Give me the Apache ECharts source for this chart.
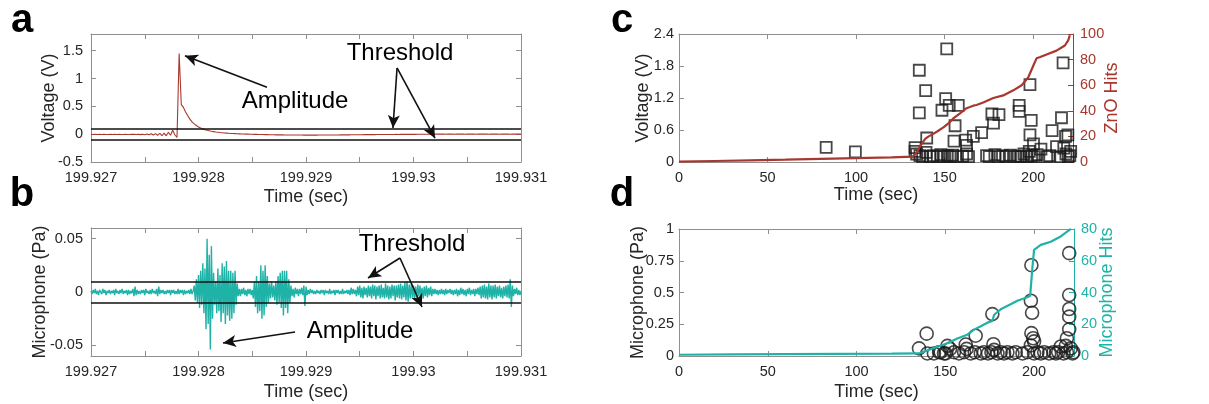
<!DOCTYPE html>
<html>
<head>
<meta charset="utf-8">
<script src="https://cdn.jsdelivr.net/npm/echarts@6/dist/echarts.min.js"></script>
<style>
  html, body { margin: 0; padding: 0; background: #fff; }
  #chart { width: 1209px; height: 404px; }
</style>
</head>
<body>
<div id="chart"></div>
<script>
// panel a: ZnO sensor voltage trace, sampled every 20 us from 199.927 s
const voltStart = 199.927;
const voltStep = 2e-5;
const voltTrace = [
  -0.004,-0.006,-0.003,-0.007,-0.004,-0.006,-0.003,-0.005,-0.006,-0.004,
  -0.007,-0.003,-0.006,-0.004,-0.005,-0.007,-0.003,-0.005,-0.006,-0.004,
  -0.002,-0.007,-0.001,-0.008,0.0,-0.01,0.004,-0.012,0.006,-0.015,
  0.01,-0.02,0.015,-0.028,0.02,-0.03,0.035,-0.02,0.07,-0.01,-0.06,1.45,
  0.53,0.48,0.4,0.33,0.27,0.22,0.185,0.155,0.13,0.11,0.095,0.08,0.07,0.06,0.052,0.046,0.04,0.035,
  0.03,0.026,0.022,0.019,0.016,0.013,0.011,0.009,0.007,0.005,0.003,0.002,0.001,0,-0.001,-0.002,
  -0.003,-0.004,-0.005,-0.006,-0.007,
  -0.008,-0.009,-0.01,-0.01,-0.011,-0.012,-0.012,-0.013,-0.013,-0.014,
  -0.014,-0.015,-0.015,-0.015,-0.016,-0.016,-0.016,-0.016,-0.017,-0.017,
  -0.017,-0.017,-0.017,-0.017,-0.017,-0.016,-0.016,-0.016,-0.016,-0.015,
  -0.015,-0.015,-0.014,-0.014,-0.014,-0.013,-0.013,-0.012,-0.012,-0.012,
  -0.011,-0.011,-0.011,-0.01,-0.01,-0.01,-0.009,-0.009,-0.009,-0.008,
  -0.008,-0.008,-0.007,-0.007,-0.007,-0.006,-0.006,-0.006,-0.005,-0.005,
  -0.005,-0.004,-0.005,-0.004,-0.004,-0.003,-0.004,-0.003,-0.003,-0.002,
  -0.003,-0.002,-0.002,-0.001,-0.002,-0.001,-0.001,0,-0.001,0,
  0,0.001,0,0.001,-0.001,0.002,0,0.001,-0.001,0.002,
  0.001,0,0.002,-0.001,0.001,0.002,0,0.001,-0.001,0.002,
  0.001,0,0.002,0.001,-0.001,0.002,0,0.001,0.002,-0.001,
  0.001,0,0.002,0.001,-0.001,0.001,0.002,0,0.001,0.001
];
const voltThreshold = [0.1, -0.1];

// panel b: microphone trace, sampled every 10 us from 199.927 s
const micStart = 199.927;
const micStep = 1e-5;
const micTrace = [
  0.001,-0.002,0.002,-0.001,0.003,-0.002,0.001,-0.003,0.002,0,-0.002,0.003,-0.001,0.002,-0.003,0.001,-0.001,0.002,-0.002,0.001,
  -0.001,0.002,-0.003,0.003,-0.001,0.001,-0.002,0.002,-0.001,0.003,-0.002,0.001,-0.001,0.002,-0.003,0.002,-0.002,0.001,-0.001,0.003,
  -0.004,0.005,-0.003,0.002,-0.002,0.001,-0.002,0.002,-0.001,0.002,-0.003,0.003,-0.001,0.001,-0.002,0.002,-0.002,0.003,-0.001,0.001,
  -0.002,0.003,-0.004,0.005,-0.002,0.002,-0.001,0.002,-0.002,0.001,-0.002,0.002,-0.001,0.002,-0.003,0.002,-0.001,0.002,-0.002,0.001,
  -0.002,0.003,-0.002,0.002,-0.001,0.002,-0.003,0.002,-0.002,0.001,-0.001,0.002,-0.002,0.003,-0.002,0.001,
  0.006,-0.008,0.012,-0.01,0.016,-0.015,0.02,-0.012,0.027,-0.02,0.022,-0.035,0.05,-0.03,0.035,-0.054,0.043,-0.025,0.018,-0.012,
  0.01,-0.02,0.022,-0.018,0.016,-0.028,0.027,-0.02,0.024,-0.03,0.029,-0.022,0.02,-0.027,0.02,-0.025,0.018,-0.02,0.02,-0.012,
  0.008,-0.004,0.003,-0.004,
  0.003,-0.002,0.004,-0.003,0.002,-0.004,0.003,-0.002,0.003,-0.003,0.002,-0.006,0.01,-0.014,0.015,-0.02,0.01,-0.018,0.025,-0.025,
  0.02,-0.022,0.025,-0.014,0.015,-0.01,0.008,-0.006,0.01,-0.005,0.006,-0.008,0.01,-0.012,0.015,-0.01,0.018,-0.015,0.02,-0.022,
  0.02,-0.015,0.02,-0.02,0.012,-0.01,0.006,-0.004,0.003,-0.005,0.004,-0.002,0.003,-0.004,0.003,-0.002,0.004,-0.003,0.006,-0.013,
  0.005,-0.003,0.002,-0.002,0.003,-0.001,0.002,-0.002,0.001,-0.002,0.002,-0.001,0.001,-0.002,0.002,-0.001,0.002,-0.003,0.002,-0.001,
  0.001,-0.002,0.003,-0.002,0.001,-0.001,0.002,-0.003,0.002,-0.001,0.002,-0.002,0.001,-0.002,0.003,-0.002,0.001,-0.001,0.002,-0.002,
  0.002,-0.003,0.004,-0.002,0.003,-0.002,0.002,-0.004,0.005,-0.003,0.006,-0.005,0.004,-0.006,0.005,-0.003,0.004,-0.005,0.006,-0.004,
  0.005,-0.006,0.007,-0.004,0.006,-0.007,0.005,-0.004,0.006,-0.006,0.007,-0.005,0.004,-0.006,0.008,-0.005,0.006,-0.007,0.005,-0.006,
  0.007,-0.004,0.006,-0.008,0.006,-0.005,0.007,-0.006,0.008,-0.007,0.006,-0.005,0.009,-0.008,0.01,-0.009,0.007,-0.006,0.008,-0.005,
  0.006,-0.007,0.005,-0.006,0.007,-0.004,0.006,-0.005,0.004,-0.006,0.005,-0.004,0.006,-0.005,0.004,-0.003,0.005,-0.004,0.003,-0.002,
  0.003,-0.002,0.002,-0.003,0.002,-0.002,0.003,-0.002,0.002,-0.003,0.003,-0.002,0.002,-0.001,0.003,-0.002,0.002,-0.003,0.002,-0.002,
  0.003,-0.004,0.002,-0.003,0.004,-0.002,0.003,-0.003,0.002,-0.004,0.003,-0.002,0.004,-0.003,0.002,-0.002,0.003,-0.004,0.003,-0.002,
  0.004,-0.003,0.005,-0.006,0.006,-0.005,0.007,-0.006,0.005,-0.007,0.008,-0.005,0.006,-0.007,0.006,-0.005,0.007,-0.006,0.005,-0.004,
  0.006,-0.005,0.004,-0.006,0.005,-0.004,0.006,-0.005,0.007,-0.006,0.012,-0.014,0.006,-0.004,0.003,-0.002,0.004,-0.003,0.002,-0.003,0.001
];
const micThreshold = [0.013, -0.013];

// panel c: ZnO hits over the run
const znoHitTime = [133.3,133.3,134.2,136.1,137.6,139.5,141.8,143.6,145.9,147.8,149.3,151.5,153,154.5,156.4,160.2,162.4,163.5,
  173.7,175.2,178.4,180.3,182.7,184.6,187.2,189.7,191.6,192.9,194.8,196.6,197.8,199.1,200.4,202.3,207.6,209.4,215.1,218.5,219.8,220.7,221.2,
  83.1,99.6,135.7,135.7,139.3,139.9,151.2,150.6,152.6,148.5,157.7,155.9,155.3,161.9,162.4,166.2,170.9,176.7,177.6,180.7,
  192.1,192.1,198.2,198.9,198.2,200.2,204.4,210.7,216.0,216.9,218.3,219.6,217.3,213.2];
const znoHitVolt = [0.2,0.27,0.15,0.12,0.1,0.18,0.1,0.12,0.1,0.14,0.1,0.12,0.1,0.13,0.1,0.11,0.15,0.1,
  0.12,0.1,0.14,0.1,0.12,0.1,0.13,0.1,0.11,0.1,0.15,0.1,0.2,0.12,0.1,0.14,0.1,0.12,0.1,0.15,0.1,0.12,0.2,
  0.275,0.19,1.72,0.92,1.34,0.45,2.12,1.19,1.06,0.97,1.06,0.68,0.39,0.41,0.31,0.48,0.55,0.9,0.73,0.89,
  1.06,0.95,1.45,0.78,0.51,0.34,0.24,0.59,0.83,1.86,0.48,0.51,0.26,0.29];
const znoCountTime = [0,20,40,60,80,100,120,132,134,136,139,141,143.6,146,149.3,152,154.9,158.7,162.4,166.2,168,171.8,
  177.5,183.1,188.8,193.5,197.2,200,201.9,204,207.6,213.2,217.9,219.8,220.7];
const znoCount = [0.3,0.8,1.3,1.8,2.4,3,3.6,4.2,7,12,18,20,22,24,27,30,34,38,42,44,44.5,46.5,
  50,52,56,60,66,75,81,82,84,87,91,95,99];

// panel d: microphone hits over the run
const micHitTime = [135.2,139.5,139.9,146.5,149.3,151.2,152.7,161.5,162,167.1,176.5,177.1,177.5,
  198.5,198.2,198.9,198.5,199.5,198.2,200,219.8,219.8,219.8,219.8,219.8,218.5,217.9,215.1,220.7,
  143.6,147.4,150.2,154.9,157.7,160.6,164.3,166.6,170,171.8,174.1,176,179.4,181.2,183.1,185,187.8,189.7,
  193.5,196.3,200,201.9,203.8,205.7,208.5,210.9,212.3,213.6,216.6,218.5,221.7,222.2];
const micHitPa = [0.06,0.176,0.02,0.03,0.02,0.08,0.056,0.09,0.056,0.16,0.33,0.093,0.048,
  0.715,0.435,0.34,0.18,0.14,0.083,0.115,0.81,0.48,0.37,0.31,0.21,0.14,0.08,0.075,0.06,
  0.02,0.03,0.02,0.03,0.02,0.03,0.02,0.03,0.02,0.03,0.02,0.03,0.02,0.03,0.02,0.03,0.02,0.03,
  0.02,0.03,0.02,0.03,0.02,0.03,0.02,0.03,0.02,0.03,0.02,0.03,0.02,0.03];
const micCountTime = [0,30,60,90,120,135,137,143.6,151.2,156.8,162.4,166.2,170,173.7,176.5,177.5,181.2,186.8,
  190.6,196.2,197.8,199.1,200,203.8,209.4,215,218.8,220.7];
const micCount = [0.8,1,1.2,1.4,1.5,1.6,2.3,5,8,11,13.4,16.6,18.8,21,22,26,29.4,32.6,34.8,37,38,56,66.8,70,72,75.3,78.5,80];

// tick values
const timeLabels = [199.927, 199.928, 199.929, 199.93, 199.931];
const timeTicks = [199.927, 199.9275, 199.928, 199.9285, 199.929, 199.9295, 199.93, 199.9305, 199.931];
const voltTicks = [-0.5, 0, 0.5, 1, 1.5];
const micTicks = [-0.05, 0, 0.05];
const runTicks = [0, 50, 100, 150, 200];
const znoVoltTicks = [0, 0.6, 1.2, 1.8, 2.4];
const znoHitTicks = [0, 20, 40, 60, 80, 100];
const micPaTicks = [0, 0.25, 0.5, 0.75, 1];
const micHitTicks = [0, 20, 40, 60, 80];

const FONT = '"Liberation Sans", Arial, sans-serif';
const TXT = '#262626';
const BOX = '#8f8f8f';
const RED = '#a8382f';
const CYAN = '#1fb3a8';

function xAx(gridIndex, position, min, max, labels, ticks, name, nameGap) {
  const bottom = position === 'bottom';
  return {
    type: 'value', gridIndex, position, min, max,
    name: bottom ? name : '', nameLocation: 'middle', nameGap: nameGap || 26, nameMoveOverlap: false,
    nameTextStyle: { fontSize: 18, color: TXT, fontFamily: FONT },
    axisLine: { show: true, onZero: false, lineStyle: { color: BOX, width: 1 } },
    axisTick: { show: true, inside: true, length: 5, customValues: ticks, lineStyle: { color: BOX } },
    axisLabel: { show: bottom, customValues: labels, fontSize: 14.5, color: TXT, fontFamily: FONT, margin: 8 },
    splitLine: { show: false }
  };
}

function yAx(gridIndex, position, min, max, ticks, name, nameGap, color, showLabel, margin) {
  const lineColor = color ? color : BOX;
  return {
    type: 'value', gridIndex, position, min, max,
    name: name || '', nameLocation: 'middle', nameGap: nameGap || 30, nameMoveOverlap: false,
    nameTextStyle: { fontSize: 18, color: color || TXT, fontFamily: FONT },
    axisLine: { show: true, onZero: false, lineStyle: { color: lineColor, width: 1 } },
    axisTick: { show: true, inside: true, length: 5, customValues: ticks, lineStyle: { color: lineColor } },
    axisLabel: { show: showLabel !== false, customValues: ticks, fontSize: 14.5, color: color || TXT, fontFamily: FONT, margin: margin || 8 },
    splitLine: { show: false }
  };
}

function arrowLines(pairs) {
  return pairs.map(([a, b]) => [
    { coord: a, symbol: 'none' },
    { coord: b, symbol: 'arrow', symbolSize: [9, 13] }
  ]);
}

function thresholdLines(levels) {
  return levels.map((v) => ({ yAxis: v, symbol: 'none', lineStyle: { color: '#111', width: 1.6, type: 'solid' } }));
}

function annotations(levels, arrows) {
  return {
    silent: true, animation: false,
    symbol: ['none', 'none'],
    label: { show: false },
    emphasis: { disabled: true },
    lineStyle: { color: '#111', width: 1.6, type: 'solid' },
    data: thresholdLines(levels).concat(arrowLines(arrows))
  };
}

const chart = echarts.init(document.getElementById('chart'), null, { renderer: 'canvas' });

const text = (x, y, s, size, bold) => ({
  type: 'text', x, y, silent: true,
  style: { text: s, fill: '#000', font: (bold ? 'bold ' : '') + size + 'px ' + FONT, align: 'center', verticalAlign: 'middle' }
});

chart.setOption({
  animation: false,
  backgroundColor: '#fff',
  grid: [
    { left: 91, top: 34, width: 430, height: 128 },
    { left: 91, top: 228, width: 430, height: 128 },
    { left: 679, top: 34, width: 394, height: 128 },
    { left: 679, top: 229, width: 395, height: 127 }
  ],
  xAxis: [
    xAx(0, 'bottom', 199.927, 199.931, timeLabels, timeTicks, 'Time (sec)', 26),
    xAx(0, 'top', 199.927, 199.931, [], timeTicks),
    xAx(1, 'bottom', 199.927, 199.931, timeLabels, timeTicks, 'Time (sec)', 27),
    xAx(1, 'top', 199.927, 199.931, [], timeTicks),
    xAx(2, 'bottom', 0, 222.5, runTicks, runTicks, 'Time (sec)', 24),
    xAx(2, 'top', 0, 222.5, [], runTicks),
    xAx(3, 'bottom', 0, 222.5, runTicks, runTicks, 'Time (sec)', 27),
    xAx(3, 'top', 0, 222.5, [], runTicks)
  ],
  yAxis: [
    yAx(0, 'left', -0.5, 1.8, voltTicks, 'Voltage (V)', 33),
    yAx(0, 'right', -0.5, 1.8, voltTicks, '', 0, null, false),
    yAx(1, 'left', -0.06, 0.06, micTicks, 'Microphone (Pa)', 42),
    yAx(1, 'right', -0.06, 0.06, micTicks, '', 0, null, false),
    yAx(2, 'left', 0, 2.4, znoVoltTicks, 'Voltage (V)', 27, null, true, 5),
    yAx(2, 'right', 0, 100, znoHitTicks, 'ZnO Hits', 30, RED, true, 7),
    yAx(3, 'left', 0, 1, micPaTicks, 'Microphone (Pa)', 32, null, true, 5),
    yAx(3, 'right', 0, 80, micHitTicks, 'Microphone Hits', 24, CYAN, true, 7)
  ],
  series: [
    {
      type: 'line', xAxisIndex: 0, yAxisIndex: 0, showSymbol: false, silent: true,
      lineStyle: { color: RED, width: 1.1 },
      data: voltTrace.map((v, i) => [voltStart + i * voltStep, v]),
      markLine: annotations(voltThreshold, [
        [[199.928637, 0.842], [199.927874, 1.41]],
        [[199.929847, 1.19], [199.929809, 0.11]],
        [[199.929847, 1.19], [199.9302, -0.073]]
      ])
    },
    {
      type: 'line', xAxisIndex: 2, yAxisIndex: 2, showSymbol: false, silent: true,
      lineStyle: { color: CYAN, width: 1.4 },
      data: micTrace.map((v, i) => [micStart + i * micStep, v]),
      markLine: annotations(micThreshold, [
        [[199.928898, -0.0375], [199.928228, -0.0478]],
        [[199.929874, 0.0319], [199.929577, 0.0131]],
        [[199.929874, 0.0319], [199.930079, -0.0141]]
      ])
    },
    {
      type: 'scatter', xAxisIndex: 4, yAxisIndex: 4, symbol: 'rect', symbolSize: 11, silent: true,
      itemStyle: { color: 'rgba(0,0,0,0)', borderColor: '#1a1a1a', borderWidth: 1.8 },
      data: znoHitTime.map((t, i) => [t, znoHitVolt[i]])
    },
    {
      type: 'line', xAxisIndex: 4, yAxisIndex: 5, showSymbol: false, silent: true,
      lineStyle: { color: RED, width: 2.2 },
      data: znoCountTime.map((t, i) => [t, znoCount[i]])
    },
    {
      type: 'scatter', xAxisIndex: 6, yAxisIndex: 6, symbol: 'circle', symbolSize: 13, silent: true,
      itemStyle: { color: 'rgba(0,0,0,0)', borderColor: '#1a1a1a', borderWidth: 1.6 },
      data: micHitTime.map((t, i) => [t, micHitPa[i]])
    },
    {
      type: 'line', xAxisIndex: 6, yAxisIndex: 7, showSymbol: false, silent: true,
      lineStyle: { color: CYAN, width: 2.2 },
      data: micCountTime.map((t, i) => [t, micCount[i]])
    }
  ],
  graphic: [
    text(22, 21, 'a', 40, true),
    text(22, 195, 'b', 40, true),
    text(622, 21, 'c', 40, true),
    text(622, 195, 'd', 40, true),
    text(400, 53.7, 'Threshold', 24),
    text(295, 101.7, 'Amplitude', 24),
    text(412, 244.7, 'Threshold', 24),
    text(360, 331.7, 'Amplitude', 24)
  ]
});
</script>
</body>
</html>
